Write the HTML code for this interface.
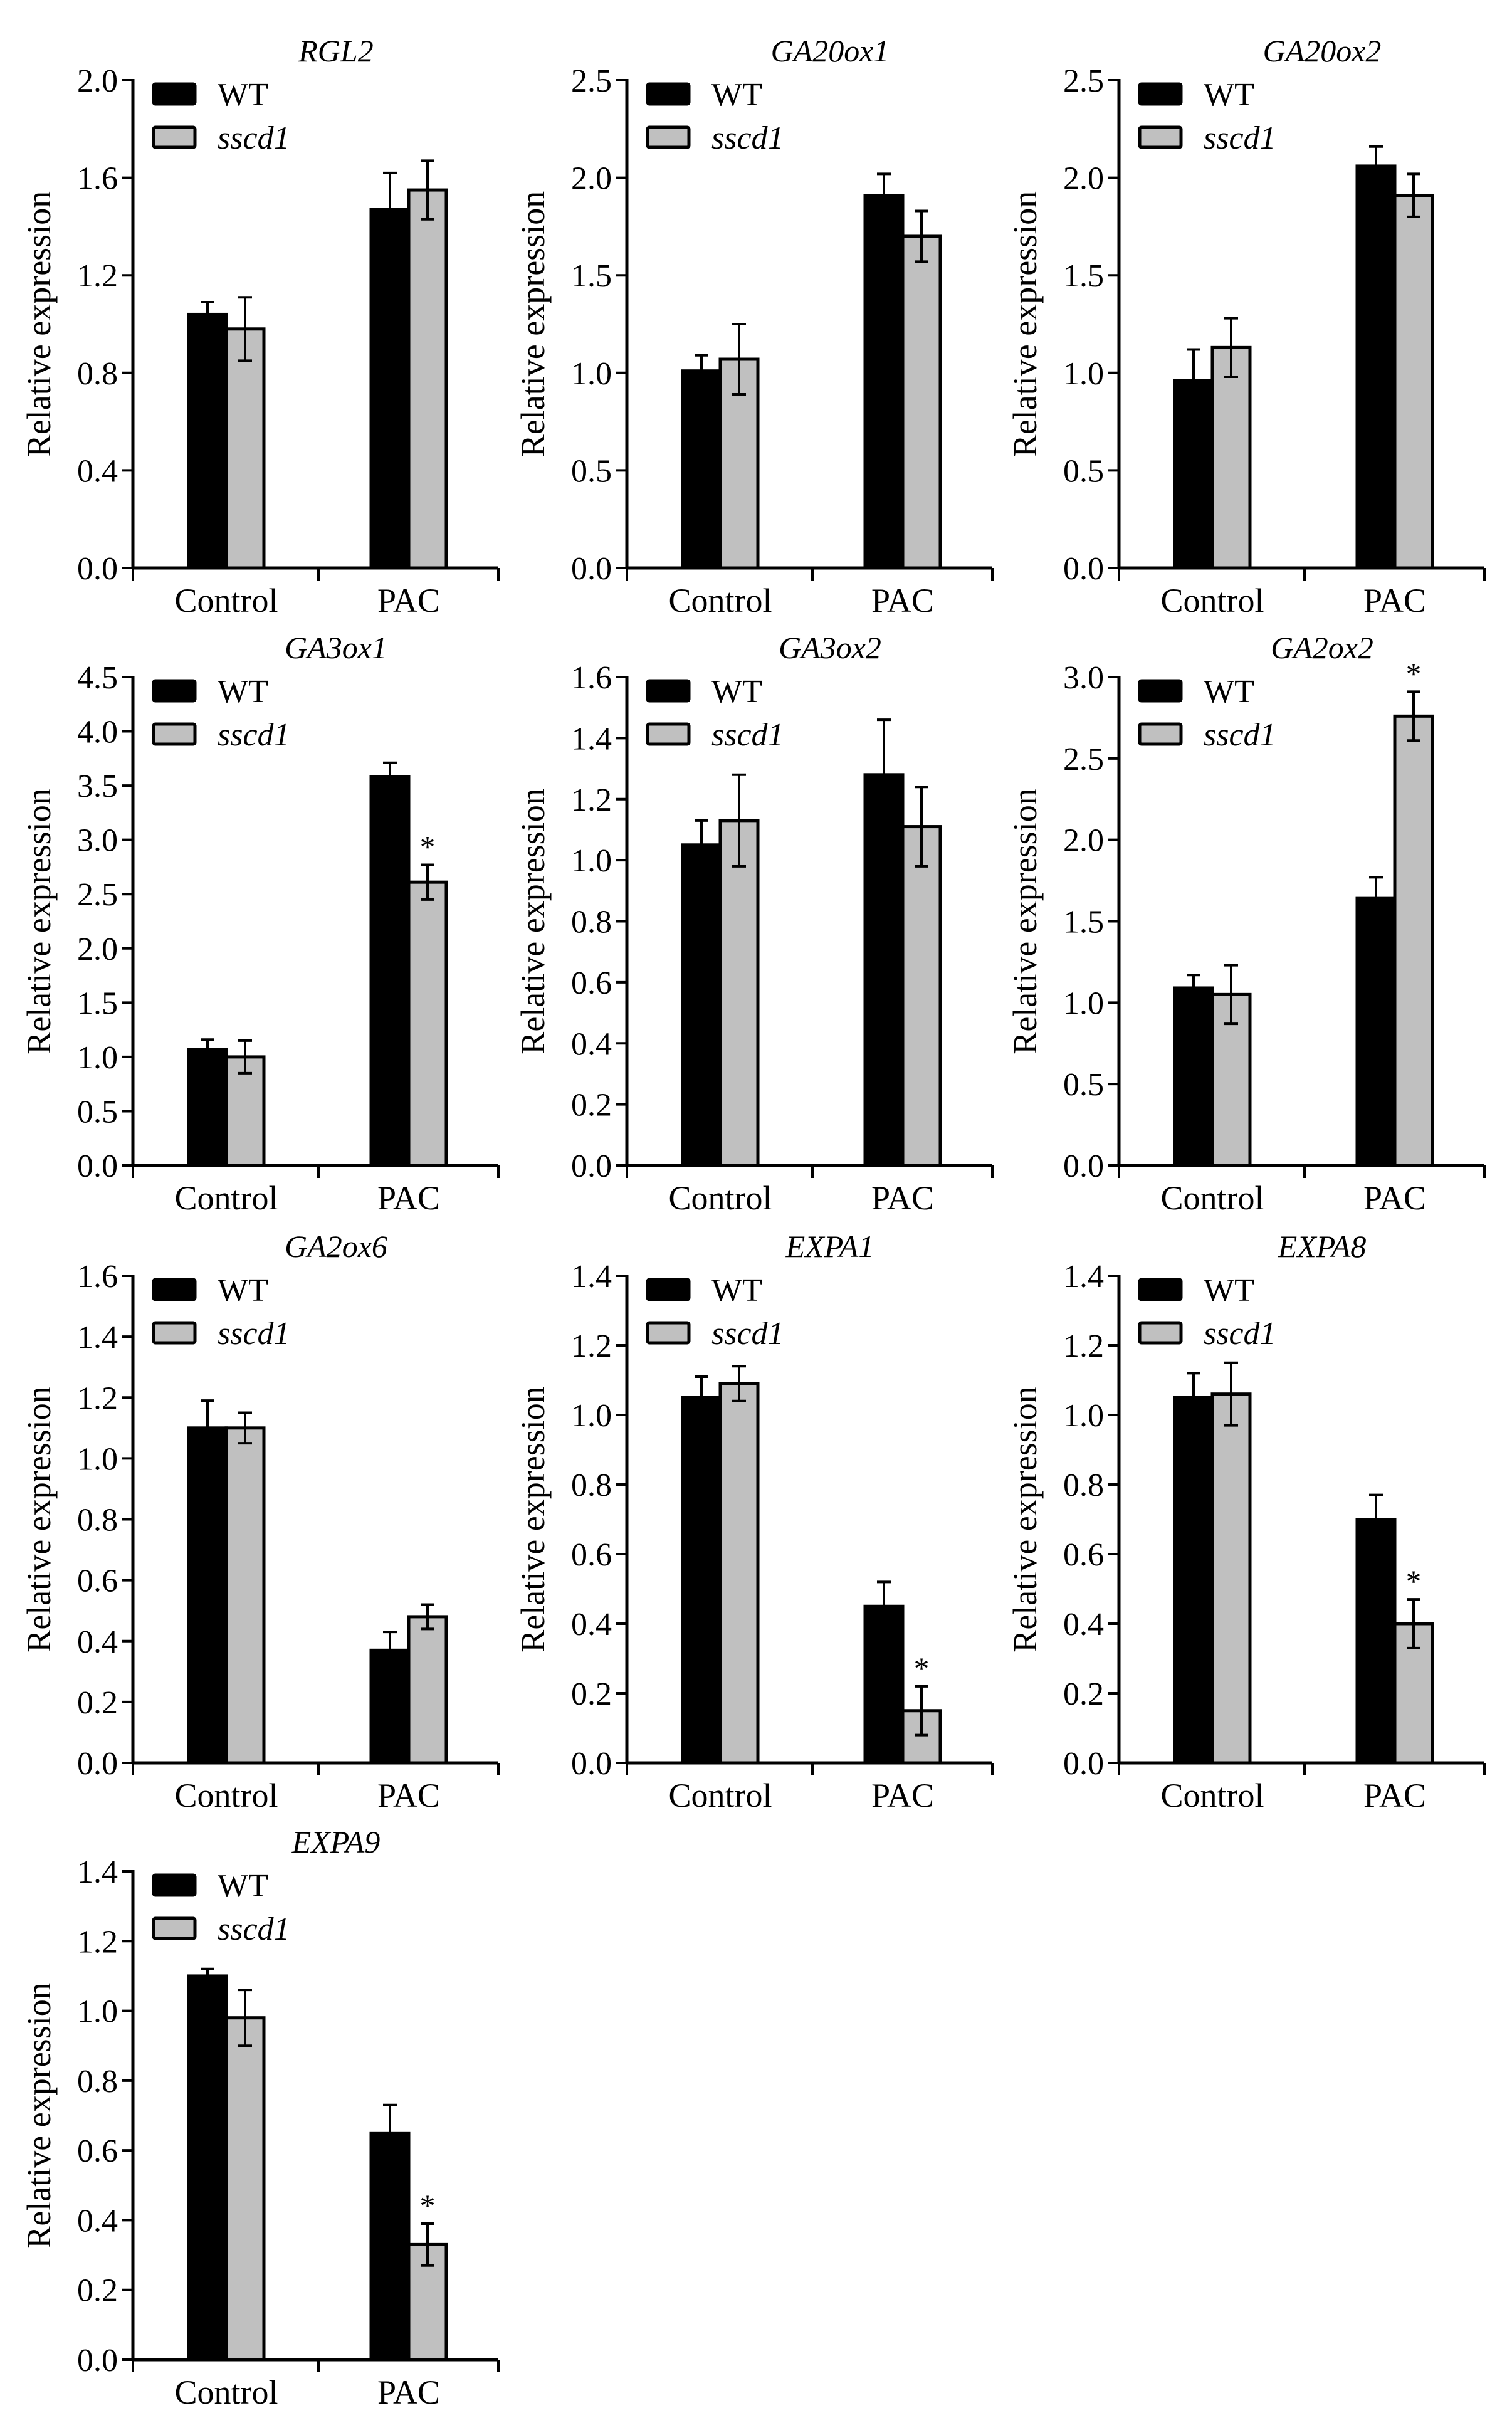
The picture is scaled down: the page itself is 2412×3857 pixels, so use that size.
<!DOCTYPE html>
<html><head><meta charset="utf-8"><style>
html,body{margin:0;padding:0;background:#fff;}
svg{display:block;font-family:"Liberation Serif",serif;}
</style></head><body>
<svg id="fig" width="2412" height="3857" viewBox="0 0 2412 3857" xmlns="http://www.w3.org/2000/svg"></svg>
<script>
const titles = ["RGL2","GA20ox1","GA20ox2","GA3ox1","GA3ox2","GA2ox2","GA2ox6","EXPA1","EXPA8","EXPA9"];
const yMax = [2.0,2.5,2.5,4.5,1.6,3.0,1.6,1.4,1.4,1.4];
const yStep = [0.4,0.5,0.5,0.5,0.2,0.5,0.2,0.2,0.2,0.2];
const categories = ["Control","PAC"];
const wtValues = [[1.04,1.47],[1.01,1.91],[0.96,2.06],[1.07,3.58],[1.05,1.28],[1.09,1.64],[1.10,0.37],[1.05,0.45],[1.05,0.70],[1.10,0.65]];
const wtErrors = [[0.05,0.15],[0.08,0.11],[0.16,0.10],[0.09,0.13],[0.08,0.18],[0.08,0.13],[0.09,0.06],[0.06,0.07],[0.07,0.07],[0.02,0.08]];
const mutValues = [[0.98,1.55],[1.07,1.70],[1.13,1.91],[1.00,2.61],[1.13,1.11],[1.05,2.76],[1.10,0.48],[1.09,0.15],[1.06,0.40],[0.98,0.33]];
const mutErrors = [[0.13,0.12],[0.18,0.13],[0.15,0.11],[0.15,0.16],[0.15,0.13],[0.18,0.15],[0.05,0.04],[0.05,0.07],[0.09,0.07],[0.08,0.06]];
const mutSignif = [[0,0],[0,0],[0,0],[0,1],[0,0],[0,1],[0,0],[0,1],[0,1],[0,1]];
const seriesNames = ["WT","sscd1"];

const NS="http://www.w3.org/2000/svg";
const svg=document.getElementById('fig');
const colX=[212,1000,1785];
const rowTop=[128,1080,2035,2985];
const rowBase=[906,1859,2812,3764];
function mk(tag,attrs,parent,text){const e=document.createElementNS(NS,tag);for(const k in attrs)e.setAttribute(k,attrs[k]);if(text!==undefined)e.textContent=text;parent.appendChild(e);return e;}

titles.forEach((t,i)=>{
  const ax=colX[i%3], top=rowTop[Math.floor(i/3)], base=rowBase[Math.floor(i/3)];
  const g=mk('g',{},svg);
  
  
  const y=v=>base-(v/yMax[i])*(base-top);
  const tt=mk('text',{x:ax+324,y:top-30,'font-size':50,'font-style':'italic','text-anchor':'middle'},g,t);
  
  
  const yl=mk('text',{x:0,y:0,'font-size':54,'text-anchor':'middle',transform:`translate(${ax-132},${(top+base)/2}) rotate(-90)`},g,'Relative expression');
  
  
  const n=Math.round(yMax[i]/yStep[i]);
  for(let k=0;k<=n;k++){
    const v=k*yStep[i], yy=y(v);
    mk('line',{x1:ax-18,x2:ax,y1:yy,y2:yy,stroke:'#000','stroke-width':4},g);
    const tl=mk('text',{x:ax-24,y:yy+18,'font-size':52,'text-anchor':'end'},g,v.toFixed(1));
    
    
  }
  mk('line',{x1:ax,x2:ax,y1:top-2,y2:base+2,stroke:'#000','stroke-width':5},g);
  mk('line',{x1:ax-2,x2:ax+583,y1:base,y2:base,stroke:'#000','stroke-width':5},g);
  [0,296,583].forEach(dx=>mk('line',{x1:ax+dx,x2:ax+dx,y1:base,y2:base+20,stroke:'#000','stroke-width':4},g));
  const groupX=[ax+89,ax+380];
  categories.forEach((c,ci)=>{
    const cl=mk('text',{x:groupX[ci]+60,y:base+70,'font-size':54,'text-anchor':'middle'},g,c);
    
    
    [[wtValues,wtErrors,'#000'],[mutValues,mutErrors,'#c0c0c0']].forEach((s,si)=>{
      const v=s[0][i][ci], e=s[1][i][ci], x0=groupX[ci]+si*60;
      const r=mk('rect',{x:x0,y:y(v),width:60,height:base-y(v),fill:s[2],stroke:'#000','stroke-width':5},g);
      
      
      const cx=x0+30;
      mk('line',{x1:cx,x2:cx,y1:y(v+e),y2:y(Math.max(0,v-e)),stroke:'#000','stroke-width':4},g);
      mk('line',{x1:cx-11,x2:cx+11,y1:y(v+e),y2:y(v+e),stroke:'#000','stroke-width':4},g);
      mk('line',{x1:cx-11,x2:cx+11,y1:y(v-e),y2:y(v-e),stroke:'#000','stroke-width':4},g);
      if(si===1 && mutSignif[i][ci]){
        const st=mk('text',{x:cx,y:y(v+e)-12,'font-size':50,'text-anchor':'middle'},g,'*');
        
        
      }
    });
  });
  [['#000','WT',''],['#c0c0c0','sscd1','italic']].forEach((L,li)=>{
    const by=top+6+li*69;
    const lr=mk('rect',{x:ax+33,y:by,width:66,height:32,fill:L[0],stroke:'#000','stroke-width':5,rx:3},g);
    
    
    const lt=mk('text',{x:ax+135,y:by+34,'font-size':52,'font-style':L[2]||'normal'},g,L[1]);
    
    
  });
});
</script>
</body></html>
